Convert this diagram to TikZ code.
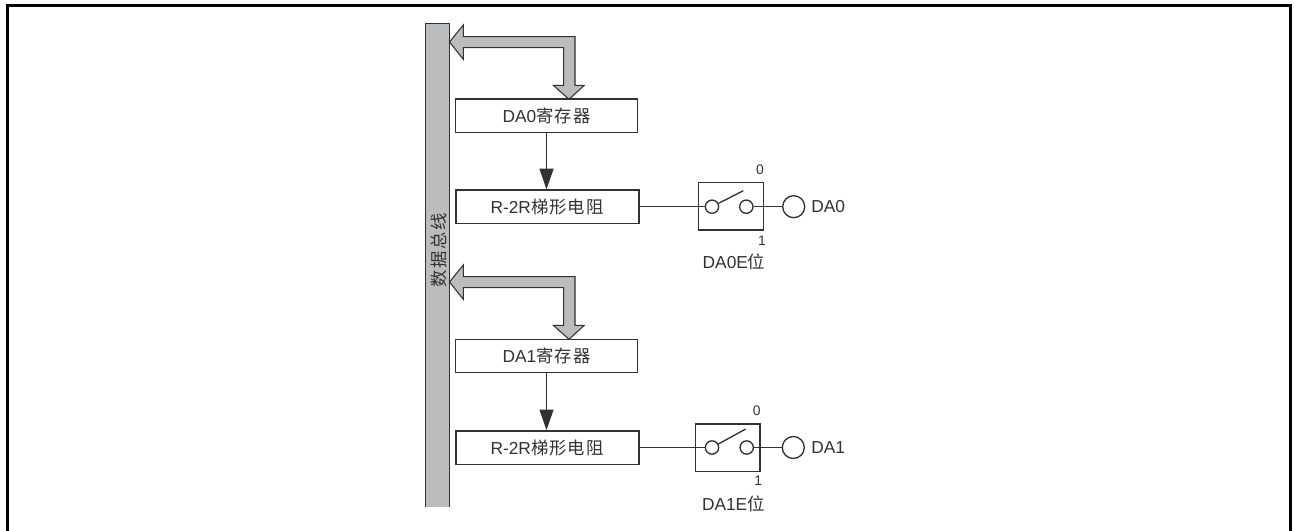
\documentclass[tikz,border=0pt]{standalone}
\usepackage{fontspec}
\setmainfont{Liberation Sans}
\newfontfamily\cjk[LetterSpace=6]{Noto Sans CJK SC}
\usetikzlibrary{arrows.meta}
\definecolor{busgray}{RGB}{186,188,190}
\definecolor{inkgray}{RGB}{50,50,50}
\tikzset{
  regbox/.style={draw=inkgray,line width=1pt,fill=white,minimum width=136.2pt,minimum height=25pt,inner sep=0pt},
  resbox/.style={regbox,minimum width=137.4pt},
  swbox/.style={draw=inkgray,line width=1pt,minimum width=48.5pt,minimum height=35.5pt,inner sep=0pt},
  term/.style={circle,draw=inkgray,line width=1pt,fill=white,minimum size=10pt,inner sep=0pt},
  outpin/.style={circle,draw=inkgray,line width=1pt,fill=white,minimum size=16.5pt,inner sep=0pt},
  lbl/.style={text=inkgray,font=\fontsize{13pt}{15pt}\selectfont,inner sep=0pt},
  smalllbl/.style={lbl,font=\fontsize{10.4pt}{12pt}\selectfont},
  wire/.style={draw=inkgray,line width=1pt},
  busarrow/.style={draw=inkgray,line width=0.8pt,fill=busgray,line join=miter}
}
\begin{document}
\begin{tikzpicture}[x=0.75pt,y=-0.75pt]
  \useasboundingbox (0,0) rectangle (1294,531);
  % outer frame, open at the bottom
  \draw[line width=2.25pt,line join=miter] (7.5,531) -- (7.5,5.5) -- (1290.5,5.5) -- (1290.5,531);
  % data bus
  \fill[busgray] (425.7,23.3) rectangle (449.3,507.3);
  \draw[wire] (425.7,507.3) -- (425.7,23.3) -- (449.3,23.3) -- (449.3,507.3);
  \node[lbl,rotate=90] (busname) at (438.5,250) {\cjk\addfontfeature{LetterSpace=10}数据总线};
  % wide arrows between bus and registers
  \foreach \yy in {0,240} {
    \draw[busarrow] (449.5,42+\yy) -- (463.3,25+\yy) -- (463.3,36.7+\yy) -- (575,36.7+\yy)
      -- (575,85.3+\yy) -- (584.3,85.3+\yy) -- (569,99.3+\yy) -- (553.3,85.3+\yy)
      -- (563.7,85.3+\yy) -- (563.7,47.7+\yy) -- (463.3,47.7+\yy) -- (463.3,59.3+\yy) -- cycle;
  }
  % channel 0
  \node[regbox] (reg0) at (546.5,115.7) {};
  \node[lbl] (reg0name) at (546.5,115.7) {DA0{\cjk 寄存器}};
  \node[resbox] (res0) at (547.5,206.7) {};
  \node[lbl] (res0name) at (547,206.7) {R-2R{\cjk 梯形电阻}};
  \draw[wire,-{Triangle[length=15.5pt,width=10.5pt]}] (reg0.south) -- (reg0.south |- res0.north);
  \node[swbox] (sw0) at (731,206.4) {};
  \node[term] (in0) at (712,206.7) {};
  \node[term] (on0) at (746.3,206.7) {};
  \node[outpin] (pin0) at (793.7,206.7) {};
  \coordinate (lever0) at (743.3,190.7);
  \draw[wire] (res0) -- (in0);
  \draw[wire] (on0) -- (pin0);
  \draw[wire] (in0) -- (lever0);
  \node[lbl,anchor=west] (pin0name) at (811,207) {DA0};
  \node[smalllbl] (sw0off) at (760,170) {0};
  \node[smalllbl] (sw0on) at (762,240.7) {1};
  \node[lbl] (sw0name) at (734,261.7) {DA0E{\cjk 位}};
  % channel 1
  \node[regbox] (reg1) at (546.5,356) {};
  \node[lbl] (reg1name) at (546.5,356) {DA1{\cjk 寄存器}};
  \node[resbox] (res1) at (547.5,447.5) {};
  \node[lbl] (res1name) at (547,447.5) {R-2R{\cjk 梯形电阻}};
  \draw[wire,-{Triangle[length=15.5pt,width=10.5pt]}] (reg1.south) -- (reg1.south |- res1.north);
  \node[swbox] (sw1) at (727.8,447.5) {};
  \node[term] (in1) at (712,447.5) {};
  \node[term] (on1) at (746.7,447.5) {};
  \node[outpin] (pin1) at (793.3,447.5) {};
  \coordinate (lever1) at (745.7,429);
  \draw[wire] (res1) -- (in1);
  \draw[wire] (on1) -- (pin1);
  \draw[wire] (in1) -- (lever1);
  \node[lbl,anchor=west] (pin1name) at (811,447.5) {DA1};
  \node[smalllbl] (sw1off) at (756.7,411) {0};
  \node[smalllbl] (sw1on) at (758.3,481) {1};
  \node[lbl] (sw1name) at (733.3,504) {DA1E{\cjk 位}};
\end{tikzpicture}
\end{document}
